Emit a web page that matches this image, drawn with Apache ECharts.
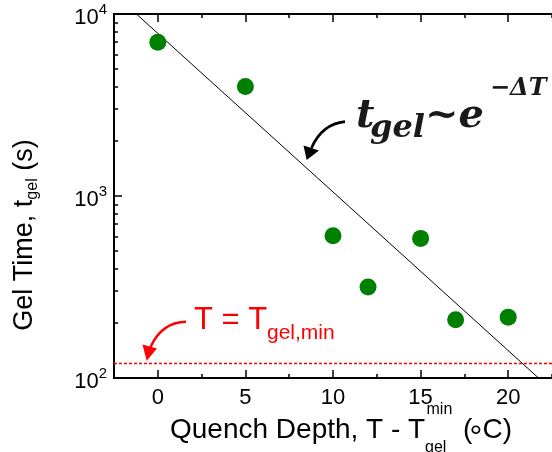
<!DOCTYPE html>
<html>
<head>
<meta charset="utf-8">
<script src="https://cdn.jsdelivr.net/npm/echarts@6/dist/echarts.min.js"></script>
<style>
html,body{margin:0;padding:0;background:#fff;}
#c{width:552px;height:452px;}
</style>
</head>
<body>
<div id="c"></div>
<script>
// ---- data ----
var quenchDepth = [0, 5, 10, 12, 15, 17, 20];
var gelTime = [7000, 4000, 605, 316, 585, 209, 216];
var fitX = [-1.22, 21.73];
var fitY = [10000, 100];
var tMinX = [-2.5, 22.5];
var tMinY = [120, 120];
var xMajorTicks = [0, 5, 10, 15, 20];
var xMinorTicks = [-2.5, 2.5, 7.5, 12.5, 17.5, 22.5];
var yMajorTicks = [100, 1000, 10000];
var yMinorTicks = [200, 300, 400, 500, 600, 700, 800, 900, 2000, 3000, 4000, 5000, 6000, 7000, 8000, 9000];

var FONT = 'Liberation Sans, Arial, sans-serif';
var SERIF = 'DejaVu Serif, serif';
var chart = echarts.init(document.getElementById('c'), null, {renderer: 'canvas'});

function xAx(pos, ticks, len, showLine, showLabel) {
  return {
    type: 'value', position: pos, min: -2.5, max: 22.5, interval: 2.5,
    splitLine: {show: false},
    axisLine: {show: showLine, onZero: false, lineStyle: {color: '#000', width: 2}},
    axisTick: {show: true, inside: true, length: len, customValues: ticks, lineStyle: {color: '#000', width: 1.5}},
    axisLabel: {show: showLabel, customValues: xMajorTicks, margin: 9, color: '#000', fontSize: 22, fontFamily: FONT}
  };
}
function yAx(ticks, len, showLine, showLabel) {
  return {
    type: 'log', logBase: 10, min: 100, max: 10000, position: 'left',
    splitLine: {show: false},
    axisLine: {show: showLine, onZero: false, lineStyle: {color: '#000', width: 2}},
    axisTick: {show: true, inside: true, length: len, customValues: ticks, lineStyle: {color: '#000', width: 1.5}},
    axisLabel: {
      show: showLabel, customValues: yMajorTicks, margin: 7, padding: [8, 0, 0, 0],
      formatter: function (v) { return '{a|10}{b|' + Math.round(Math.log10(v)) + '}'; },
      rich: {
        a: {fontSize: 22, fontFamily: FONT, color: '#000', lineHeight: 31},
        b: {fontSize: 15, fontFamily: FONT, color: '#000', verticalAlign: 'top', lineHeight: 15}
      }
    }
  };
}
function txt(x, yMid, s, font, color) {
  return {type: 'text', x: x, y: yMid, style: {text: s, font: font, fill: color, align: 'left', verticalAlign: 'middle'}};
}

var option = {
  backgroundColor: '#fff',
  animation: false,
  grid: {left: 114, top: 14, width: 452, height: 364, containLabel: false},
  xAxis: [
    xAx('bottom', xMajorTicks, 8, true, true),
    xAx('bottom', xMinorTicks, 4, false, false),
    xAx('top', xMajorTicks, 8, true, false),
    xAx('top', xMinorTicks, 4, false, false)
  ],
  yAxis: [
    yAx(yMajorTicks, 8, true, true),
    yAx(yMinorTicks, 4, false, false)
  ],
  series: [
    {
      type: 'line', xAxisIndex: 0, yAxisIndex: 0,
      data: tMinX.map(function (x, i) { return [x, tMinY[i]]; }),
      symbol: 'none', itemStyle: {color: '#ff0000'},
      lineStyle: {color: '#ff0000', width: 1.5, type: [3, 2], opacity: 1}, clip: true, z: 1
    },
    {
      type: 'line', xAxisIndex: 0, yAxisIndex: 0,
      data: fitX.map(function (x, i) { return [x, fitY[i]]; }),
      symbol: 'none', lineStyle: {color: '#000', width: 1}, clip: true, z: 2
    },
    {
      type: 'scatter', xAxisIndex: 0, yAxisIndex: 0,
      data: quenchDepth.map(function (x, i) { return [x, gelTime[i]]; }),
      symbol: 'circle', symbolSize: 17, itemStyle: {color: '#008000', opacity: 1}, z: 3
    }
  ],
  graphic: [
    // y axis title
    {
      type: 'text', x: 25, y: 235, rotation: Math.PI / 2,
      style: {
        text: '{a|Gel Time, t}{s|gel}{a| (s)}', align: 'center', verticalAlign: 'middle',
        rich: {
          a: {fontSize: 27, fontFamily: FONT, color: '#000', lineHeight: 32},
          s: {fontSize: 16, fontFamily: FONT, color: '#000', lineHeight: 16, verticalAlign: 'bottom'}
        }
      }
    },
    // x axis title
    txt(170, 430, 'Quench Depth, T - T', '28px ' + FONT, '#000'),
    txt(426.5, 409.5, 'min', '16px ' + FONT, '#000'),
    txt(425, 447.6, 'gel', '16px ' + FONT, '#000'),
    txt(463, 430, '(', '28px ' + FONT, '#000'),
    txt(469.5, 438, '\u00B0', '32px ' + FONT, '#000'),
    txt(482.5, 430, 'C)', '28px ' + FONT, '#000'),
    // red annotation
    txt(194, 320.8, 'T = T', '31px ' + FONT, '#ff0000'),
    txt(267, 333, 'gel,min', '21px ' + FONT, '#ff0000'),
    {type: 'bezierCurve', shape: {x1: 186, y1: 321.7, cpx1: 162, cpy1: 322, x2: 150.5, y2: 347}, style: {stroke: '#ff0000', lineWidth: 2.5, fill: null}},
    {type: 'polygon', shape: {points: [[146.7, 360.7], [142.5, 344.5], [157, 348.5]]}, style: {fill: '#ff0000'}},
    // black math annotation
    txt(356, 116.6, 't', 'italic bold 40px ' + SERIF, '#1a1a1a'),
    txt(370, 128.5, 'gel', 'italic bold 32px ' + SERIF, '#1a1a1a'),
    txt(425, 116.6, '~e', 'italic bold 40px ' + SERIF, '#1a1a1a'),
    txt(490, 88.4, '\u2212\u0394T', 'italic bold 24px ' + SERIF, '#1a1a1a'),
    {type: 'bezierCurve', shape: {x1: 345, y1: 121.7, cpx1: 322, cpy1: 124, x2: 311.5, y2: 148}, style: {stroke: '#000', lineWidth: 2.7, fill: null}},
    {type: 'polygon', shape: {points: [[306.7, 160], [303.5, 145.5], [319, 150.5]]}, style: {fill: '#000'}}
  ]
};
chart.setOption(option);
</script>
</body>
</html>
